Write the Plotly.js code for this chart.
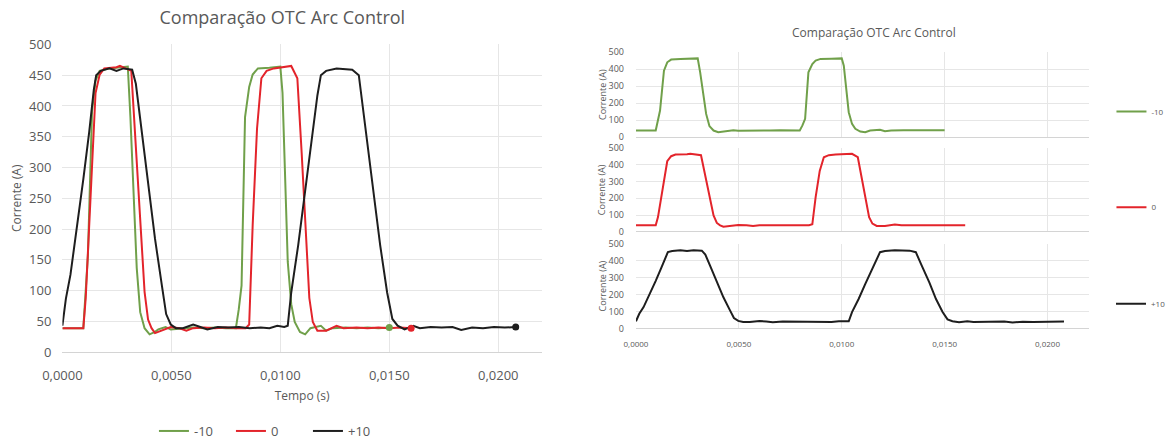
<!DOCTYPE html>
<html>
<head>
<meta charset="utf-8">
<script src="https://cdn.plot.ly/plotly-3.0.1.min.js"></script>
<style>html,body{margin:0;padding:0;background:#fff;}#chart{width:1171px;height:446px;}</style>
</head>
<body>
<div id="chart"></div>
<script>
// Series names
const seriesNames = ['-10', '0', '+10'];

// Series "-10" (time in s, current in A)
const tMinus10 = [0, 0.00096, 0.00117, 0.00136, 0.00152, 0.00171, 0.00216, 0.00300, 0.00312, 0.00325, 0.00341, 0.00357, 0.00377, 0.00400, 0.00425, 0.00440, 0.00473, 0.00497, 0.00550, 0.00600, 0.00650, 0.00700, 0.00750, 0.00796, 0.00809, 0.00822, 0.00838, 0.00857, 0.00873, 0.00897, 0.00950, 0.01000, 0.01010, 0.01020, 0.01034, 0.01050, 0.01066, 0.01090, 0.01114, 0.01138, 0.01160, 0.01186, 0.01210, 0.01240, 0.01300, 0.01350, 0.01400, 0.01450, 0.01500];
const iMinus10 = [39, 39, 157, 392, 441, 457, 461, 464, 382, 265, 137, 65, 39, 29, 33, 37, 41, 37, 39, 40, 39, 40, 39, 39, 69, 108, 382, 431, 451, 461, 462, 464, 421, 304, 147, 78, 49, 33, 29, 39, 41, 43, 35, 39, 40, 39, 40, 39, 40];

// Series "0"
const tZero = [0, 0.00096, 0.00107, 0.00123, 0.00152, 0.00171, 0.00192, 0.00248, 0.00264, 0.00316, 0.00332, 0.00353, 0.00377, 0.00393, 0.00409, 0.00425, 0.00457, 0.00497, 0.00537, 0.00569, 0.00600, 0.00650, 0.00700, 0.00750, 0.00800, 0.00841, 0.00857, 0.00873, 0.00893, 0.00913, 0.00937, 0.00970, 0.01050, 0.01078, 0.01098, 0.01117, 0.01133, 0.01149, 0.01170, 0.01210, 0.01258, 0.01290, 0.01350, 0.01400, 0.01450, 0.01500, 0.01550, 0.01600];
const iZero = [39, 39, 88, 206, 421, 451, 461, 463, 465, 457, 363, 225, 98, 53, 39, 31, 35, 41, 39, 35, 39, 40, 39, 40, 39, 39, 45, 206, 363, 445, 457, 461, 465, 445, 323, 186, 88, 49, 35, 35, 43, 39, 40, 39, 40, 39, 40, 39];

// Series "+10"
const tPlus10 = [0, 0.00016, 0.00037, 0.00064, 0.00096, 0.00123, 0.00144, 0.00155, 0.00176, 0.00216, 0.00248, 0.00280, 0.00320, 0.00337, 0.00361, 0.00393, 0.00425, 0.00457, 0.00476, 0.00497, 0.00521, 0.00553, 0.00600, 0.00633, 0.00665, 0.00713, 0.00760, 0.00810, 0.00860, 0.00910, 0.00950, 0.00986, 0.01018, 0.01034, 0.01050, 0.01082, 0.01114, 0.01146, 0.01170, 0.01186, 0.01210, 0.01258, 0.01330, 0.01360, 0.01386, 0.01426, 0.01458, 0.01490, 0.01514, 0.01538, 0.01570, 0.01610, 0.01640, 0.01690, 0.01740, 0.01790, 0.01830, 0.01880, 0.01930, 0.01980, 0.02030, 0.02080];
const iPlus10 = [43, 87, 126, 194, 281, 358, 426, 450, 457, 461, 457, 461, 459, 436, 368, 271, 184, 107, 62, 45, 39, 39, 45, 41, 37, 41, 40, 41, 39, 40, 39, 43, 41, 43, 97, 174, 262, 349, 417, 450, 457, 461, 459, 450, 378, 271, 174, 97, 54, 43, 37, 43, 39, 41, 40, 41, 36, 40, 39, 41, 40, 41];

const seriesColors = ['#70a04a', '#e3242b', '#1e1e1e'];

const times = [tMinus10, tZero, tPlus10];
const currents = [iMinus10, iZero, iPlus10];

const FONT = 'Open Sans, Lato, sans-serif';
const GRAY = '#595959';
const GRID = '#e6e6e6';

const traces = [];
// Left combined chart
for (let k = 0; k < 3; k++) {
  traces.push({
    type: 'scatter', mode: 'lines', name: seriesNames[k],
    x: times[k], y: currents[k], xaxis: 'x', yaxis: 'y',
    line: {color: seriesColors[k], width: 2},
    legend: 'legend', hoverinfo: 'skip'
  });
}
// End-point markers of the left chart (last sample of each series)
for (let k = 0; k < 3; k++) {
  const n = times[k].length;
  traces.push({
    type: 'scatter', mode: 'markers', name: seriesNames[k], showlegend: false,
    x: [times[k][n - 1]], y: [currents[k][n - 1]], xaxis: 'x', yaxis: 'y',
    marker: {color: seriesColors[k], size: 7}, hoverinfo: 'skip'
  });
}
// Right stacked panels
const panelY = ['y2', 'y3', 'y4'];
const panelLegend = ['legend2', 'legend3', 'legend4'];
for (let k = 0; k < 3; k++) {
  traces.push({
    type: 'scatter', mode: 'lines', name: seriesNames[k],
    x: times[k], y: currents[k], xaxis: 'x2', yaxis: panelY[k],
    line: {color: seriesColors[k], width: 2},
    legend: panelLegend[k], hoverinfo: 'skip'
  });
}

function yPanel(domain) {
  return {
    domain: domain, anchor: 'x2', range: [0, 500], dtick: 100, tick0: 0,
    showgrid: true, gridcolor: GRID, gridwidth: 1,
    zeroline: true, zerolinecolor: '#d4d4d4', zerolinewidth: 1,
    showline: false, ticks: '', automargin: false,
    tickfont: {size: 9, color: GRAY, family: FONT}, ticklabelstandoff: 11
  };
}

const panelDomains = [
  [(446 - 139) / 446, (446 - 53) / 446],
  [(446 - 235) / 446, (446 - 150) / 446],
  [(446 - 333) / 446, (446 - 247) / 446]
];

const legendBase = {
  orientation: 'v', xanchor: 'left', yanchor: 'middle',
  font: {size: 8, color: GRAY, family: FONT}, bgcolor: 'rgba(0,0,0,0)'
};

const annotations = [{
  text: 'Comparação OTC Arc Control', showarrow: false,
  xref: 'paper', yref: 'paper', x: 882 / 1171, y: 1 - 33 / 446,
  xanchor: 'center', yanchor: 'middle',
  font: {size: 12, color: GRAY, family: FONT}
}];
// Y-axis titles of the three right panels
panelDomains.forEach(d => {
  annotations.push({
    text: 'Corrente (A)', showarrow: false, textangle: -90,
    xref: 'paper', yref: 'paper', x: 608 / 1171, y: (d[0] + d[1]) / 2,
    xanchor: 'center', yanchor: 'middle',
    font: {size: 9, color: GRAY, family: FONT}
  });
});

const layout = {
  width: 1171, height: 446,
  margin: {l: 0, r: 0, t: 0, b: 0},
  paper_bgcolor: '#ffffff', plot_bgcolor: '#ffffff',
  separators: ',.',
  font: {family: FONT, color: GRAY},
  showlegend: true,
  title: {
    text: 'Comparação OTC Arc Control',
    x: 285 / 1171, xanchor: 'center', xref: 'paper',
    y: 1 - 18 / 446, yanchor: 'middle', yref: 'paper',
    font: {size: 18, color: GRAY, family: FONT}
  },
  xaxis: {
    domain: [63 / 1171, 547 / 1171], anchor: 'y', range: [0, 0.022],
    dtick: 0.005, tick0: 0, tickformat: '.4f',
    showgrid: true, gridcolor: GRID, zeroline: false,
    showline: false, ticks: '', automargin: false,
    tickfont: {size: 13, color: GRAY, family: FONT}, ticklabelstandoff: 14,
    title: {text: 'Tempo (s)', font: {size: 12, color: GRAY, family: FONT}, standoff: 8}
  },
  yaxis: {
    domain: [(446 - 357) / 446, (446 - 45) / 446], anchor: 'x', range: [0, 500],
    dtick: 50, tick0: 0,
    showgrid: true, gridcolor: GRID, zeroline: true, zerolinecolor: '#d4d4d4',
    showline: false, ticks: '', automargin: false,
    tickfont: {size: 13, color: GRAY, family: FONT}, ticklabelstandoff: 10,
    title: {text: 'Corrente (A)', font: {size: 12, color: GRAY, family: FONT}, standoff: 4}
  },
  xaxis2: {
    domain: [642 / 1171, 1099 / 1171], anchor: 'y4', range: [0, 0.022],
    dtick: 0.005, tick0: 0, tickformat: '.4f',
    showgrid: true, gridcolor: GRID, zeroline: false,
    showline: false, ticks: '', automargin: false,
    tickfont: {size: 8, color: GRAY, family: FONT}, ticklabelstandoff: 9
  },
  yaxis2: yPanel(panelDomains[0]),
  yaxis3: yPanel(panelDomains[1]),
  yaxis4: yPanel(panelDomains[2]),
  legend: {
    orientation: 'h', x: 272 / 1171, xanchor: 'center', y: 1 - 437 / 446, yanchor: 'middle',
    font: {size: 13, color: GRAY, family: FONT}, bgcolor: 'rgba(0,0,0,0)',
    entrywidth: 32, entrywidthmode: 'pixels'
  },
  legend2: Object.assign({}, legendBase, {x: 1122 / 1171, y: 1 - 113 / 446}),
  legend3: Object.assign({}, legendBase, {x: 1122 / 1171, y: 1 - 210 / 446}),
  legend4: Object.assign({}, legendBase, {x: 1122 / 1171, y: 1 - 308 / 446}),
  annotations: annotations
};

Plotly.newPlot('chart', traces, layout, {displayModeBar: false, staticPlot: true});
</script>
</body>
</html>
